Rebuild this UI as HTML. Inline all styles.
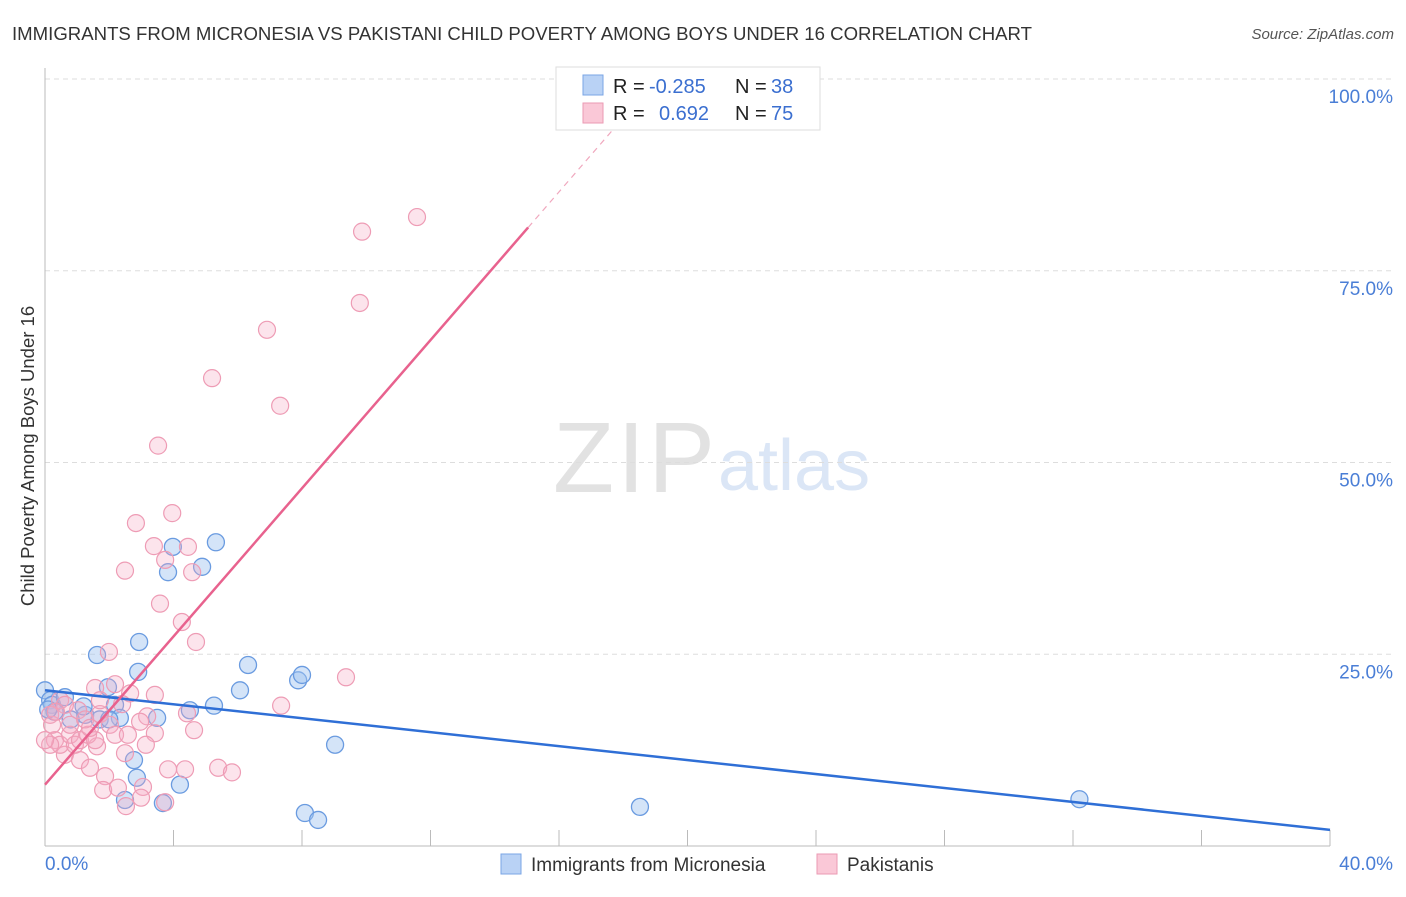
<!DOCTYPE html>
<html><head><meta charset="utf-8"><style>
body{margin:0;background:#fff;font-family:"Liberation Sans",sans-serif;}
svg text{font-family:"Liberation Sans",sans-serif;}
</style></head><body>
<svg id="chart" width="1406" height="892">
<text x="12" y="40" font-size="18.6" fill="#333" textLength="1020">IMMIGRANTS FROM MICRONESIA VS PAKISTANI CHILD POVERTY AMONG BOYS UNDER 16 CORRELATION CHART</text>
<text x="1394" y="39" font-size="15" fill="#555" font-style="italic" text-anchor="end">Source: ZipAtlas.com</text>
<g>
<text x="553" y="492" font-size="100" font-family="Liberation Serif" fill="#e2e2e2" textLength="162">ZIP</text>
<text x="718" y="490" font-size="72" fill="#dbe6f6">atlas</text>
</g>
<g id="grid"></g>
<g id="axes"></g>
<g id="pts"></g>
<g id="lines"></g>
<text transform="translate(34,456) rotate(-90)" font-size="18.5" fill="#333" text-anchor="middle">Child Poverty Among Boys Under 16</text>
<g>
<rect x="556" y="67" width="264" height="63" fill="#fff" stroke="#ddd"/>
<rect x="583" y="75" width="20" height="20" fill="#b9d2f5" stroke="#7aa5e5"/>
<rect x="583" y="103" width="20" height="20" fill="#fac8d7" stroke="#eb9ab3"/>
<text x="613" y="93" font-size="20" fill="#222">R =</text>
<text x="649" y="93" font-size="20" fill="#3b6fd0">-0.285</text>
<text x="735" y="93" font-size="20" fill="#222">N =</text>
<text x="771" y="93" font-size="20" fill="#3b6fd0">38</text>
<text x="613" y="120" font-size="20" fill="#222">R =</text>
<text x="659" y="120" font-size="20" fill="#3b6fd0">0.692</text>
<text x="735" y="120" font-size="20" fill="#222">N =</text>
<text x="771" y="120" font-size="20" fill="#3b6fd0">75</text>
</g>
<g>
<rect x="501" y="854" width="20" height="20" fill="#b9d2f5" stroke="#7aa5e5"/>
<text x="531" y="871" font-size="19" fill="#333">Immigrants from Micronesia</text>
<rect x="817" y="854" width="20" height="20" fill="#fac8d7" stroke="#eb9ab3"/>
<text x="847" y="871" font-size="19" fill="#333">Pakistanis</text>
</g>
</svg>
<script>
const xTickLabels=["0.0%","40.0%"];
const yTicks=[25,50,75,100];
const yTickLabels=["25.0%","50.0%","75.0%","100.0%"];
const blueX=[0,0.16,0.22,0.62,1.25,1.62,1.96,2.18,2.33,2.77,2.86,2.93,2.9,2.49,3.49,3.67,3.83,3.98,4.2,4.51,4.89,5.26,5.32,6.07,6.32,7.88,8.0,8.09,8.5,9.03,18.52,32.2,1.7,0.8,0.3,1.2,2.0,0.1];
const blueY=[20.3,19.0,18.4,19.4,17.1,24.9,20.7,18.4,16.7,11.2,8.9,26.6,22.7,6.0,16.7,5.6,35.7,39.0,8.0,17.7,36.4,18.3,39.6,20.3,23.6,21.6,22.3,4.3,3.4,13.2,5.1,6.1,16.5,16.5,17.5,18.2,16.5,17.8];
const pinkX=[11.58,9.87,9.8,6.91,5.2,7.32,3.52,3.96,2.83,3.39,4.45,3.74,2.49,4.58,3.58,4.26,4.7,1.99,9.37,7.35,2.18,2.65,1.56,0.47,1.03,1.71,2.4,3.18,4.42,4.64,3.42,3.14,2.49,1.62,0.62,1.09,1.87,1.4,1.81,2.27,3.05,2.99,2.52,3.83,4.36,5.39,5.82,3.74,0.16,0.31,0.47,0.78,0.93,1.09,1.34,1.56,0.16,0,0.22,0.78,2.02,2.96,1.25,0.62,0.34,1.71,3.42,2.18,2.58,1.4];
const pinkY=[82.0,80.1,70.8,67.3,61.0,57.4,52.2,43.4,42.1,39.1,39.0,37.3,35.9,35.7,31.6,29.2,26.6,25.3,22.0,18.3,21.1,19.9,20.6,19.0,17.7,17.2,18.5,16.9,17.3,15.1,14.7,13.2,12.1,13.0,11.9,11.2,9.1,10.2,7.3,7.6,7.7,6.3,5.2,10.0,10.0,10.2,9.6,5.7,17.1,13.8,13.2,14.5,13.2,13.8,14.5,13.8,13.2,13.8,15.8,15.8,15.8,16.2,16.5,18.4,17.5,19.0,19.7,14.5,14.5,15.4];
const blueTrend=[20.3,-0.455];
const pinkTrend=[8.0,4.83];
const NS="http://www.w3.org/2000/svg";
const sx=v=>45+v*32.125, sy=v=>846-v*7.67;
function mk(p,t,a){const e=document.createElementNS(NS,t);for(const k in a)e.setAttribute(k,a[k]);document.getElementById(p).appendChild(e);return e;}
yTicks.forEach((t,i)=>{
 const g=mk('grid','line',{x1:45,x2:1394,y1:sy(t),y2:sy(t),stroke:'#ddd','stroke-dasharray':'5,4'});
 
 
 const l=mk('grid','text',{x:1393,y:sy(t)+24,'font-size':19,fill:'#4a7ed6','text-anchor':'end'});
 l.textContent=yTickLabels[i];
 
 
});
mk('axes','line',{x1:45,x2:45,y1:68,y2:846,stroke:'#bbb'});
mk('axes','line',{x1:45,x2:1330,y1:846,y2:846,stroke:'#bbb'});
for(let i=1;i<=10;i++){const t=mk('axes','line',{x1:sx(i*4),x2:sx(i*4),y1:830,y2:846,stroke:'#bbb'});
 
 }
[[0,'start',45],[40,'end',1393]].forEach((d,i)=>{const l=mk('axes','text',{x:d[2],y:870,'font-size':19,fill:'#4a7ed6','text-anchor':d[1]});l.textContent=xTickLabels[i];
 
 });
blueX.forEach((x,i)=>{const c=mk('pts','circle',{cx:sx(x),cy:sy(blueY[i]),r:8.5,fill:'rgba(160,195,240,0.45)',stroke:'#6a9be0','stroke-width':1.3});
 
 });
pinkX.forEach((x,i)=>{const c=mk('pts','circle',{cx:sx(x),cy:sy(pinkY[i]),r:8.5,fill:'rgba(245,170,195,0.32)',stroke:'#ee9cb5','stroke-width':1.2});
 
 });
const bl=mk('lines','line',{x1:sx(0),y1:sy(blueTrend[0]),x2:sx(40),y2:sy(blueTrend[0]+blueTrend[1]*40),stroke:'#2f6fd6','stroke-width':2.5});


const xe=15.04, xd=(100-pinkTrend[0])/pinkTrend[1];
const pl=mk('lines','line',{x1:sx(0),y1:sy(pinkTrend[0]),x2:sx(xe),y2:sy(pinkTrend[0]+pinkTrend[1]*xe),stroke:'#e8628e','stroke-width':2.5});


const pd=mk('lines','line',{x1:sx(xe),y1:sy(pinkTrend[0]+pinkTrend[1]*xe),x2:sx(xd),y2:sy(100),stroke:'#f0a8be','stroke-width':1.2,'stroke-dasharray':'6,5'});


</script>
</body></html>
